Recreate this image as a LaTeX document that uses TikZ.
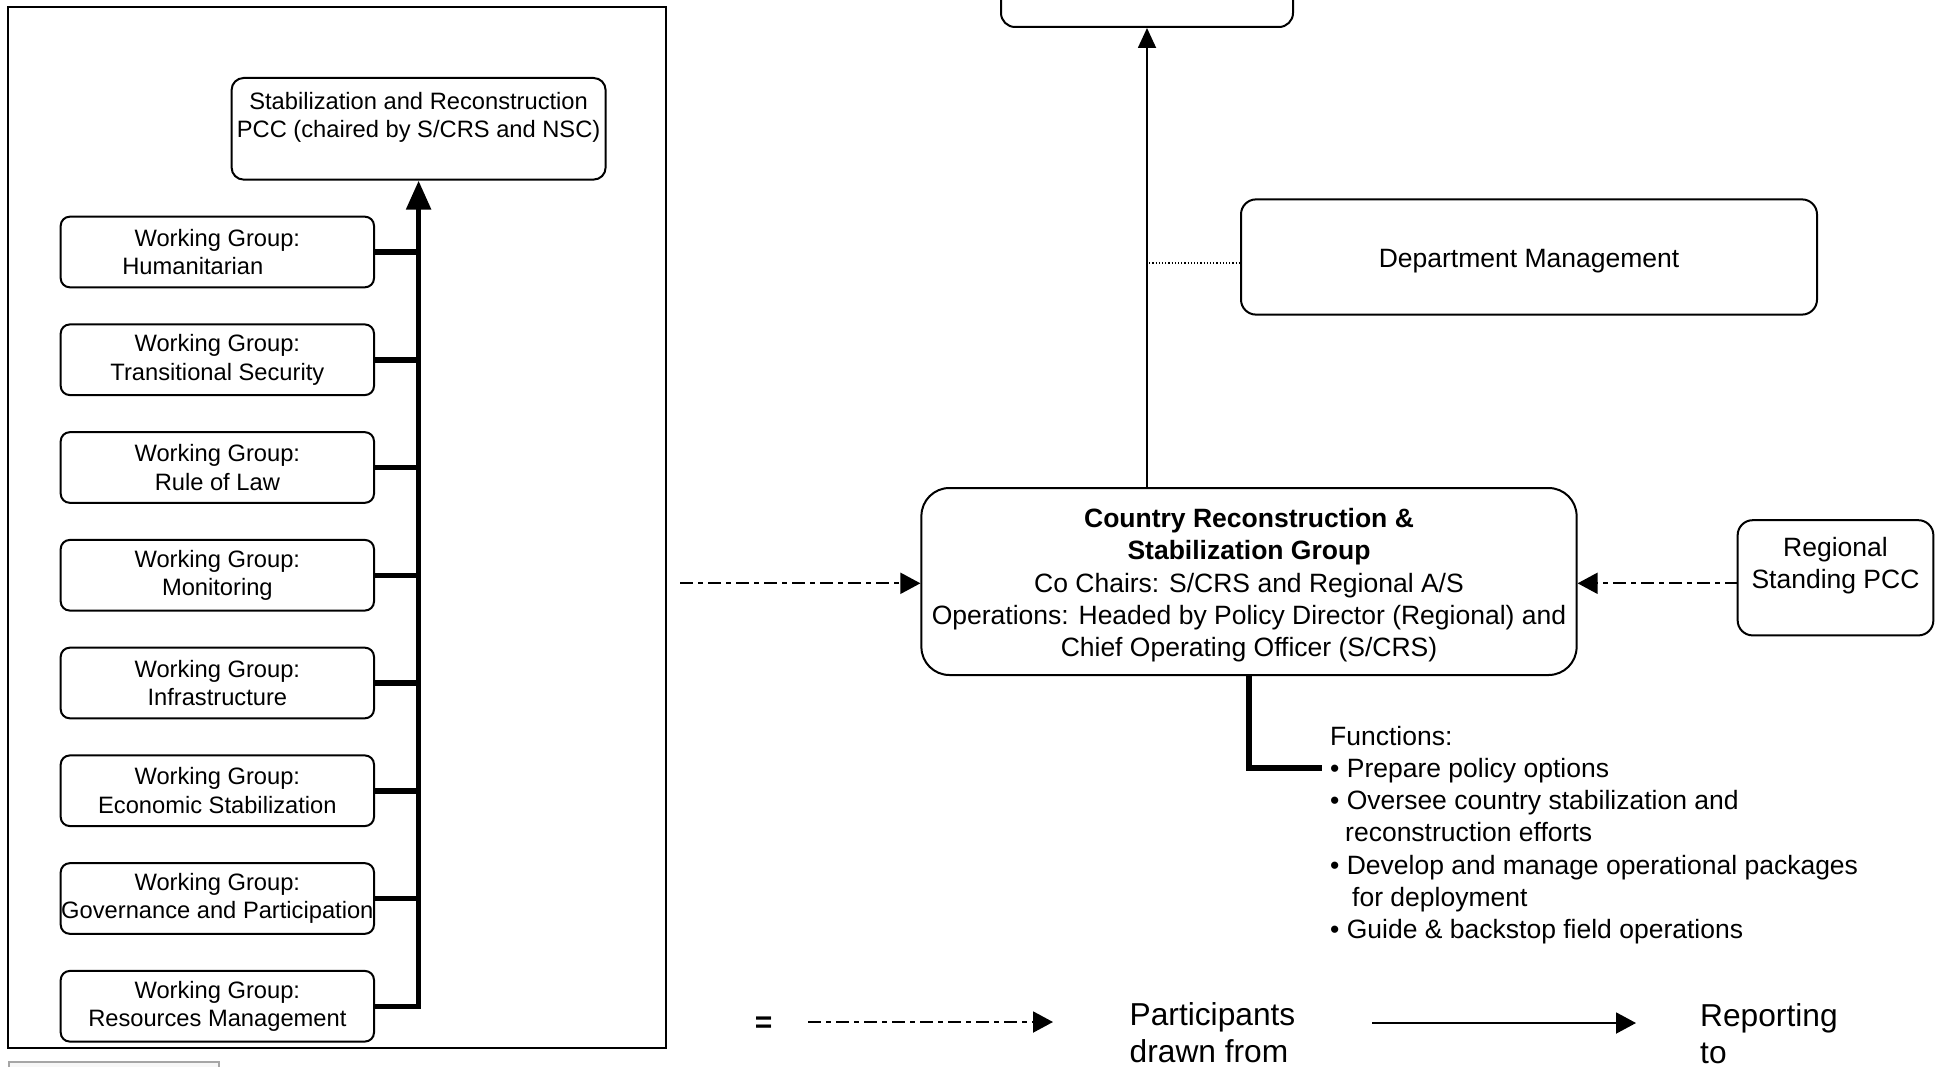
\documentclass[tikz,border=0pt]{standalone}
\usepackage{fontspec}
\setmainfont{Liberation Sans}
\usetikzlibrary{arrows.meta}
\tikzset{
  x=1pt,y=-1pt,
  box/.style={draw, line width=2pt, rounded corners=#1, inner sep=0pt},
  box/.default=10pt,
  wg/.style={box=9pt, minimum width=313.3pt, minimum height=70.6pt, align=center,
     font=\fontsize{23.7pt}{28.5pt}\selectfont},
  mid/.style={font=\fontsize{26.5pt}{32.2pt}\selectfont},
  big/.style={font=\fontsize{31.7pt}{37.3pt}\selectfont},
  txt/.style={inner sep=0pt},
  thickline/.style={line width=5.5pt},
  bigarrow/.style={thickline, -{Triangle[length=29pt,width=24pt]}},
  thinarrow/.style={line width=1.8pt, -{Triangle[length=20pt,width=18pt]}},
  ddarrow/.style={line width=2pt, dash pattern=on 13pt off 5pt on 5pt off 5pt,
     -{Triangle[length=20pt,width=21pt]}},
  solidarrow/.style={line width=2pt, -{Triangle[length=20pt,width=21pt]}},
}
\begin{document}
\begin{tikzpicture}
\useasboundingbox (0,0) rectangle (1942,1067);
\clip (0,0) rectangle (1942,1067);

% left frame
\node[draw, line width=2pt, inner sep=0pt, minimum width=658pt, minimum height=1040pt] (frame) at (337,527.5) {};
% grey partial box bottom left
\node[draw=black!35, fill=black!3, line width=1.5pt, inner sep=0pt, minimum width=210pt, minimum height=20pt] (grey) at (114,1072) {};

% PCC
\node[box=12pt, minimum width=374pt, minimum height=101.6pt] (pcc) at (418.6,128.8) {};
\node[txt, align=center, font=\fontsize{23.7pt}{28.5pt}\selectfont] (pcctext) at (418.6,117.5)
  {Stabilization and Reconstruction\\PCC (chaired by S/CRS and NSC)};

% working groups
\node[wg] (wg1) at (217.35,252) {Working Group:\\Humanitarian\hspace*{49pt}\mbox{}};
\node[wg] (wg2) at (217.35,359.75) {Working Group:\\Transitional Security};
\node[wg] (wg3) at (217.35,467.5) {Working Group:\\Rule of Law};
\node[wg] (wg4) at (217.35,575.25) {Working Group:\\Monitoring};
\node[wg] (wg5) at (217.35,683) {Working Group:\\Infrastructure};
\node[wg] (wg6) at (217.35,790.75) {Working Group:\\Economic Stabilization};
\node[wg] (wg7) at (217.35,898.5) {Working Group:\\Governance and Participation};
\node[wg] (wg8) at (217.35,1006.25) {Working Group:\\Resources Management};

\draw[bigarrow] (wg8.east) -| (pcc.south);
\foreach \i in {1,...,7} {
  \draw[thickline] (wg\i.east) -- (wg\i.east -| pcc.south);
}

% top box (cut off)
\node[box=14pt, minimum width=292pt, minimum height=74pt] (top) at (1147,-10) {};

% department management
\node[box=15pt, minimum width=576pt, minimum height=115.2pt] (dept) at (1529,257) {};
\node[txt, mid] (depttext) at (1529,261) {Department Management};

% CRSG
\node[box=28pt, minimum width=655.2pt, minimum height=187pt] (crsg) at (1249,581.5) {};
\node[txt, align=center, mid] (crsgtext) at (1249,585.3)
  {\textbf{Country Reconstruction \&}\\\textbf{Stabilization Group}\\Co Chairs: S/CRS and Regional A/S\\Operations: Headed by Policy Director (Regional) and\\Chief Operating Officer (S/CRS)};

% Regional standing PCC
\node[box=15pt, minimum width=195.7pt, minimum height=115.2pt] (reg) at (1835.5,577.8) {};
\node[txt, align=center, mid] (regtext) at (1835.5,566) {Regional\\Standing PCC};

% connectors to top box
\draw[thinarrow] (top.south |- crsg.north) -- (top.south);
\coordinate (dj) at (1146,263);
\draw[line width=1.2pt, dotted] (dj) -- (dj -| dept.west);

% dash-dot arrows into CRSG
\coordinate (pin) at (680,583.3);
\draw[ddarrow] (pin) -- (pin -| crsg.west);
\coordinate (rin) at (1737.6,583.3);
\draw[ddarrow] (rin) -- (rin -| crsg.east);

% functions
\coordinate (fn) at (1322,768);
\draw[line width=6pt] (crsg.south) |- (fn);
\node[txt, anchor=west, align=left, mid] (functions) at (1330,835)
  {Functions:\\
   • Prepare policy options\\
   • Oversee country stabilization and\\
   \hspace*{15pt}reconstruction efforts\\
   • Develop and manage operational packages\\
   \hspace*{22pt}for deployment\\
   • Guide \& backstop field operations};

% legend
\node[txt, font=\fontsize{30pt}{32pt}\selectfont\bfseries] (eq) at (763.5,1025) {=};
\coordinate (l1s) at (808,1022);
\coordinate (l1e) at (1053,1022);
\draw[ddarrow] (l1s) -- (l1e);
\node[txt, anchor=west, align=left, big] (part) at (1129.5,1032.5) {Participants\\drawn from};
\coordinate (l2s) at (1372,1023);
\coordinate (l2e) at (1636,1023);
\draw[solidarrow] (l2s) -- (l2e);
\node[txt, anchor=west, align=left, big] (rep) at (1700,1033.5) {Reporting\\to};
\end{tikzpicture}
\end{document}
